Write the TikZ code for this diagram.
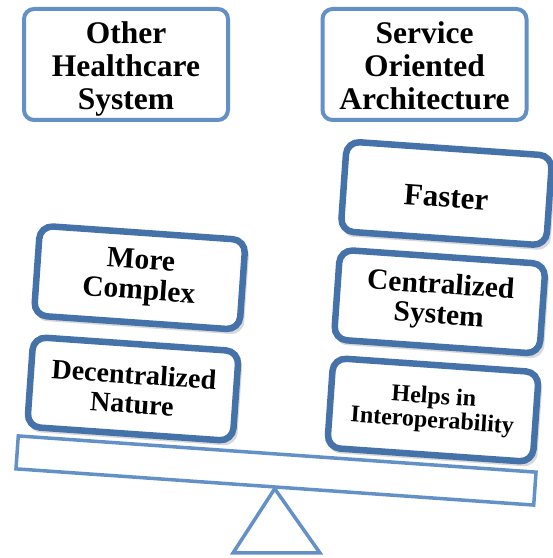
\documentclass[tikz,border=0pt]{standalone}
\usepackage{fontspec}
\setmainfont{Liberation Serif}
\usepackage{tikz}
\usetikzlibrary{positioning, shadows}

\definecolor{lightline}{RGB}{100,144,200}
\definecolor{darkline}{RGB}{70,114,170}

\begin{document}
\begin{tikzpicture}[x=1pt, y=1pt,
    frame/.style={draw=lightline, line width=4pt, rounded corners=10pt, fill=white, inner sep=2pt,
        text height=91pt, text depth=0pt,
        minimum width=204pt, minimum height=111pt, align=center, font=\bfseries\fontsize{31.5}{33}\selectfont},
    weight/.style={draw=darkline, line width=6.5pt, rounded corners=13pt, fill=white, rotate=-4,
        minimum width=206pt, minimum height=90pt, align=center, font=\bfseries\fontsize{29.5}{30}\selectfont,
        drop shadow={shadow xshift=2pt, shadow yshift=-4pt, shadow scale=1.02, opacity=0.3}},
    beamstyle/.style={draw=lightline, line width=3.5pt, fill=white, rotate=-4, inner sep=0pt,
        minimum width=519pt, minimum height=33pt}]
    \useasboundingbox (0,0) rectangle (553,558);

    \node[frame] (other) at (126,493.5) {Other\\Healthcare\\System};
    \node[frame] (soa) at (424.5,493.5) {Service\\Oriented\\Architecture};

    \node[beamstyle] (beam) at (276,87.5) {};
    \coordinate (baseL) at (233,5);
    \coordinate (baseR) at (320,5);
    \draw[lightline, line width=3.5pt] (beam.south) -- (baseL) -- (baseR) -- cycle;

    \node[weight, font=\bfseries\fontsize{28}{29}\selectfont] (decentral) at (133,169) {Decentralized\\Nature};
    \node[weight] (complex) [above=15pt of decentral] {More\\Complex};

    \node[weight, font=\bfseries\fontsize{24}{24}\selectfont] (interop) at (433,148) {Helps in\\Interoperability};
    \node[weight] (central) [above=12pt of interop] {Centralized\\System};
    \node[weight, font=\bfseries\fontsize{31}{31}\selectfont, text height=28pt, text depth=0pt] (faster) [above=12pt of central] {Faster};
\end{tikzpicture}
\end{document}
